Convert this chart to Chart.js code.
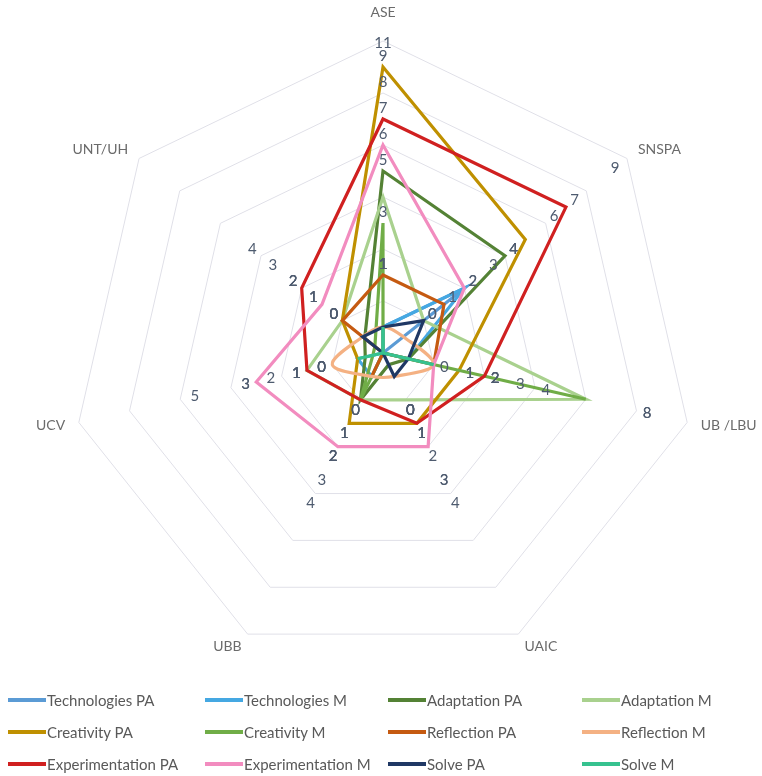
<!DOCTYPE html>
<html><head><meta charset="utf-8">
<script src="https://cdn.jsdelivr.net/npm/chart.js@4.4.1/dist/chart.umd.min.js"></script>
<style>
html,body{margin:0;padding:0;background:#fff;}
#wrap{position:relative;width:762px;height:776px;overflow:hidden;font-family:Lato,'Open Sans',sans-serif;}
#c{position:absolute;left:0;top:0;}
#legend{position:absolute;left:8px;top:684px;display:grid;grid-template-columns:197px 183px 194px 170px;grid-auto-rows:32px;}
.item{display:flex;align-items:center;font-size:15px;color:#595959;white-space:nowrap;}
.sw{width:38px;height:4px;margin-right:1px;flex:none;}
</style></head><body>
<div id="wrap"><canvas id="c" width="762" height="776"></canvas><div id="legend"></div></div>
<script>
// Categories (axes)
const axes = ['ASE', 'SNSPA', 'UB /LBU', 'UAIC', 'UBB', 'UCV', 'UNT/UH'];

// Series names
const seriesNames = ['Technologies PA', 'Technologies M', 'Adaptation PA', 'Adaptation M',
  'Creativity PA', 'Creativity M', 'Reflection PA', 'Reflection M',
  'Experimentation PA', 'Experimentation M', 'Solve PA', 'Solve M'];

// Series values, in axis order
const technologiesPA    = [1, 4, 0, 0, 0, 0, 0];
const technologiesM     = [1, 4, 1, 0, 1, 1, 0];
const adaptationPA      = [7, 6, 1, 0.5, 2, 0.7, 0.9];
const adaptationM       = [6, 2, 8, 2, 2, 3, 2];
const creativityPA      = [11, 7, 3, 3, 3, 1, 2];
const creativityM       = [5, 0, 8, 0, 2, 0.4, 0.4];
const reflectionPA      = [3, 3, 2, 0, 1, 0, 2];
const reflectionM       = [1, 1, 2, 1, 1, 2, 1];
const experimentationPA = [9, 9, 4, 3, 2, 3, 4];
const experimentationM  = [8, 4, 2, 4, 4, 5, 3];
const solvePA           = [1, 2, 1, 1, 0, 0, 1];
const solveM            = [1, 0, 2, 0, 0, 1, 0];

// Radial scale
const scaleMin = 0, scaleMax = 12, scaleStep = 2;

const seriesValues = [technologiesPA, technologiesM, adaptationPA, adaptationM,
  creativityPA, creativityM, reflectionPA, reflectionM,
  experimentationPA, experimentationM, solvePA, solveM];

const seriesColors = ['#5B9BD5', '#45A8E2', '#548235', '#A9D18E',
  '#BF9000', '#70AD47', '#C55A11', '#F4B183',
  '#D02020', '#F28CBF', '#1F3864', '#36C28F'];

const fontFamily = "Lato, 'Open Sans', sans-serif";

const labelPlugin = {
  id: 'radarLabels',
  afterDatasetsDraw(chart) {
    const ctx = chart.ctx;
    const s = chart.scales.r;
    const R = s.drawingArea;
    ctx.save();
    // data labels
    ctx.font = '15px ' + fontFamily;
    ctx.fillStyle = '#4E5B6F';
    ctx.textAlign = 'center';
    ctx.textBaseline = 'middle';
    chart.data.datasets.forEach((ds, di) => {
      ds.data.forEach((v, j) => {
        const rv = Math.round(v);
        const p = s.getPointPosition(j, s.getDistanceFromCenterForValue(rv) + 63);
        const y = Math.max(p.y, 43);
        ctx.fillText(String(rv), p.x, y);
      });
    });
    // axis labels
    ctx.font = '14px ' + fontFamily;
    ctx.fillStyle = '#6B6B6B';
    chart.data.labels.forEach((lab, i) => {
      let p = s.getPointPosition(i, R + 14);
      const dx = p.x - s.xCenter;
      if (Math.abs(dx) < 5) {
        p = s.getPointPosition(i, R + 22);
        ctx.textAlign = 'center';
        ctx.textBaseline = 'bottom';
      } else {
        ctx.textAlign = dx > 0 ? 'left' : 'right';
        ctx.textBaseline = 'middle';
      }
      ctx.fillText(lab, p.x, p.y);
    });
    ctx.restore();
  }
};

new Chart(document.getElementById('c'), {
  type: 'radar',
  data: {
    labels: axes,
    datasets: seriesNames.map((n, i) => ({
      label: n,
      data: seriesValues[i],
      borderColor: seriesColors[i],
      backgroundColor: 'rgba(0,0,0,0)',
      borderWidth: 3.2,
      pointRadius: 0,
      pointHoverRadius: 0,
      fill: false,
      tension: n === 'Reflection M' ? 0.35 : 0,
      order: seriesNames.length - i
    }))
  },
  options: {
    responsive: false,
    animation: false,
    layout: { padding: { left: 71, right: 67, top: 41, bottom: 111 } },
    plugins: { legend: { display: false }, tooltip: { enabled: false } },
    scales: {
      r: {
        min: scaleMin, max: scaleMax,
        ticks: { display: false, stepSize: scaleStep },
        grid: { color: '#E0E0E8', lineWidth: 1 },
        angleLines: { display: false },
        pointLabels: { display: false }
      }
    }
  },
  plugins: [labelPlugin]
});

// HTML legend
const legend = document.getElementById('legend');
seriesNames.forEach((n, i) => {
  const it = document.createElement('div');
  it.className = 'item';
  const sw = document.createElement('span');
  sw.className = 'sw';
  sw.style.background = seriesColors[i];
  const tx = document.createElement('span');
  tx.textContent = n;
  it.appendChild(sw); it.appendChild(tx);
  legend.appendChild(it);
});
</script>
</body></html>
